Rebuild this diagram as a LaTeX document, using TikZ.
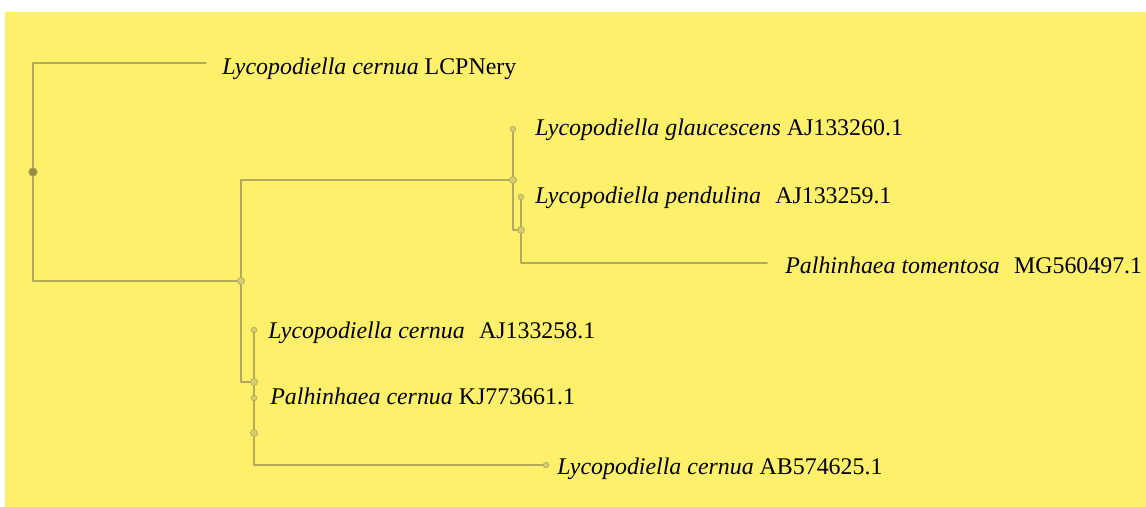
\documentclass[tikz,border=0pt]{standalone}
\usepackage{fontspec}
\setmainfont{Liberation Serif}
\usetikzlibrary{positioning}
\definecolor{bgyellow}{RGB}{254,240,106}
\definecolor{branch}{RGB}{180,170,90}
\definecolor{knotfill}{RGB}{214,204,112}
\definecolor{rootfill}{RGB}{150,140,60}

\begin{document}
\begin{tikzpicture}[x=0.02cm,y=-0.02cm,line cap=round,line join=round,font=\fontsize{13.6}{16}\selectfont,
  edge/.style={draw=branch,line width=1.1pt},
  knot/.style={circle,fill=knotfill,draw=branch,line width=0.4pt,inner sep=0pt,minimum size=1.4mm},
  tipknot/.style={knot,minimum size=1.1mm},
  taxon/.style={anchor=base west,inner sep=0pt,text=black}]
    \useasboundingbox (0,0) rectangle (1146,507);
    \fill[bgyellow] (5,12) rectangle (1146,507);
    % branching points and tips
    \coordinate (root) at (33,172);
    \coordinate (nA) at (241,281);
    \coordinate (nB) at (513,180);
    \coordinate (nC) at (254,382);
    \coordinate (nD) at (521,230);
    \coordinate (nE) at (254,433);
    \coordinate (tLCP) at (206,63);
    \coordinate (tGla) at (513,129);
    \coordinate (tPen) at (521,197);
    \coordinate (tTom) at (767,263);
    \coordinate (tAJ) at (254,330);
    \coordinate (tPal) at (254,398);
    \coordinate (tAB) at (546,465);
    % branches
    \draw[edge] (root) |- (tLCP);
    \draw[edge] (root) |- (nA);
    \draw[edge] (nA) |- (nB);
    \draw[edge] (nA) |- (nC);
    \draw[edge] (nB) -- (tGla);
    \draw[edge] (nB) |- (nD);
    \draw[edge] (nD) -- (tPen);
    \draw[edge] (nD) |- (tTom);
    \draw[edge] (nC) -- (tAJ);
    \draw[edge] (nC) -- (nE);
    \draw[edge] (nE) -- (tPal);
    \draw[edge] (nE) |- (tAB);
    % dots
    \node[knot,fill=rootfill,minimum size=1.7mm] (dRoot) at (root) {};
    \node[knot] (dA) at (nA) {};
    \node[knot] (dB) at (nB) {};
    \node[knot] (dC) at (nC) {};
    \node[knot] (dD) at (nD) {};
    \node[knot] (dE) at (nE) {};
    \node[tipknot] (dGla) at (tGla) {};
    \node[tipknot] (dPen) at (tPen) {};
    \node[tipknot] (dAJ) at (tAJ) {};
    \node[tipknot] (dPal) at (tPal) {};
    \node[tipknot] (dAB) at (tAB) {};
    % taxa
    \node[taxon] (lLCP) at (222,74) {\textit{Lycopodiella cernua} LCPNery};
    \node[taxon] (lGla) at (535,135) {\textit{Lycopodiella glaucescens} AJ133260.1};
    \node[taxon] (lPen) at (535,203) {\textit{Lycopodiella pendulina}\hspace{0.35em} AJ133259.1};
    \node[taxon] (lTom) at (785,273) {\textit{Palhinhaea tomentosa}\hspace{0.35em} MG560497.1};
    \node[taxon] (lAJ) at (268,338) {\textit{Lycopodiella cernua}\hspace{0.35em} AJ133258.1};
    \node[taxon] (lPal) at (270,404) {\textit{Palhinhaea cernua} KJ773661.1};
    \node[taxon] (lAB) at (557,474) {\textit{Lycopodiella cernua} AB574625.1};
\end{tikzpicture}
\end{document}
